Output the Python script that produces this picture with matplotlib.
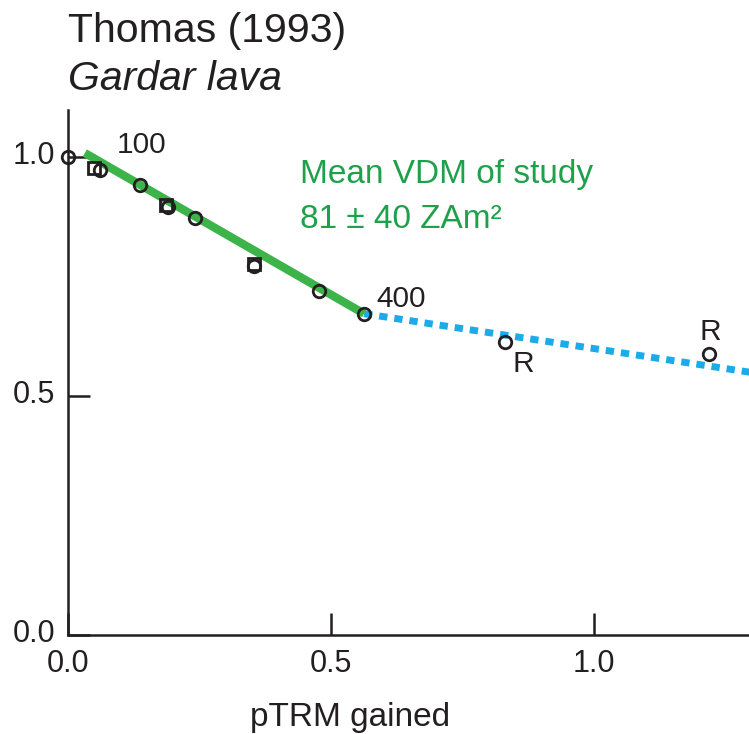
import matplotlib.pyplot as plt
from matplotlib.transforms import ScaledTranslation

plt.rcParams['font.family'] = ['Liberation Sans', 'DejaVu Sans']

# Arai plot data: NRM remaining vs pTRM gained
circ_x = [0.0, 0.06, 0.137, 0.19, 0.241, 0.354, 0.477, 0.563]
circ_y = [1.0, 0.972, 0.941, 0.895, 0.872, 0.772, 0.72, 0.672]
sq_x = [0.05, 0.187, 0.353]
sq_y = [0.976, 0.899, 0.776]
check_x = [0.831, 1.219]
check_y = [0.613, 0.588]

fit_x = [0.032, 0.563]
fit_y = [1.008, 0.672]
ext_x = [0.563, 1.30]
ext_y = [0.672, 0.549]

xticks = [0.0, 0.5, 1.0]
yticks = [0.0, 0.5, 1.0]
tick_labels = ['0.0', '0.5', '1.0']

ink = '#231f20'

fig = plt.figure(figsize=(7.49, 7.34), dpi=100)
ax = fig.add_axes([68 / 749, 1 - 635 / 734, 1 - 68 / 749, (635 - 110) / 734])

ax.plot(ext_x, ext_y, color='#1cabe9', lw=5, linestyle=(0, (1.2, 1.0)),
        solid_capstyle='butt', dash_capstyle='butt', zorder=2)
ax.plot(fit_x, fit_y, color='#3cb44a', lw=6, solid_capstyle='butt', zorder=3)

ax.plot(sq_x, sq_y, 's', ms=9, mfc='none', mec=ink, mew=2, zorder=4)
ax.plot(circ_x, circ_y, 'o', ms=9, mfc='none', mec=ink, mew=2, zorder=4, clip_on=False)
ax.plot(check_x, check_y, 'o', ms=9, mfc='none', mec=ink, mew=2, zorder=4)

# step labels and pTRM checks
ax.text(0.093, 1.008, '100', fontsize=21.5, color=ink, va='baseline')
ax.text(0.587, 0.686, '400', fontsize=21.5, color=ink, va='baseline')
ax.text(0.846, 0.55, 'R', fontsize=21.5, color=ink, va='baseline')
ax.text(1.222, 0.617, 'R', fontsize=21.5, color=ink, ha='center', va='baseline')

green_txt = '#1fa04a'
ax.text(0.441, 0.946, 'Mean VDM of study', fontsize=24, color=green_txt, va='baseline')
ax.text(0.441, 0.851, '81 \u00b1 40 ZAm\u00b2', fontsize=24, color=green_txt, va='baseline')

ax.set_xlim(0, 1.295)
ax.set_ylim(0, 1.098)
ax.set_xticks(xticks)
ax.set_yticks(yticks)
ax.set_xticklabels(tick_labels)
ax.set_yticklabels(tick_labels)
ax.tick_params(direction='in', length=16, width=1.8, labelsize=22, colors=ink)
ax.tick_params(axis='x', pad=10)
ax.tick_params(axis='y', pad=9)
# nudge y tick labels up a little
lift = ScaledTranslation(0, 4 / 100, fig.dpi_scale_trans)
for lbl in ax.get_yticklabels():
    lbl.set_transform(lbl.get_transform() + lift)
for s in ['top', 'right']:
    ax.spines[s].set_visible(False)
for s in ['left', 'bottom']:
    ax.spines[s].set_linewidth(1.8)
    ax.spines[s].set_color(ink)

ax.set_xlabel('pTRM gained', fontsize=24, color=ink, va='baseline')
ax.xaxis.set_label_coords((350 - 68) / 681, -(726 - 635) / 525)

fig.text(68 / 749, 1 - 42 / 734, 'Thomas (1993)', fontsize=29.5, color=ink, va='baseline')
fig.text(68 / 749, 1 - 90 / 734, 'Gardar lava', fontsize=29.5, color=ink,
         va='baseline', style='italic')

fig.savefig('out.png', dpi=100)
